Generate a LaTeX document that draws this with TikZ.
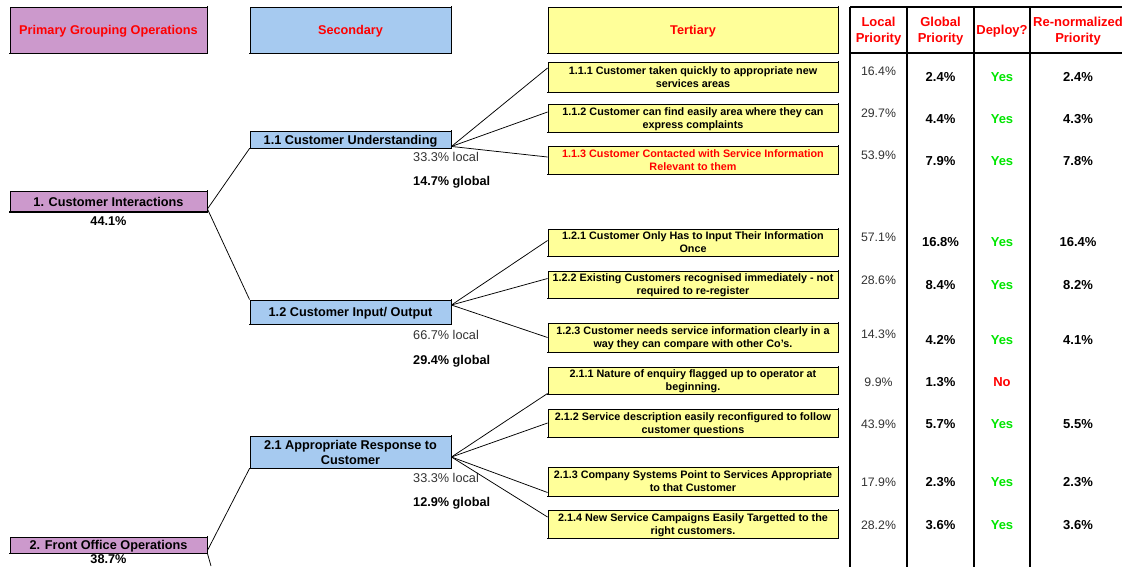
\documentclass[tikz,border=0pt]{standalone}
\usepackage{fontspec}
\setmainfont{Liberation Sans}
\usetikzlibrary{calc}

\definecolor{primfill}{HTML}{CC99CC}
\definecolor{secfill}{HTML}{A6CAF0}
\definecolor{terfill}{HTML}{FFFF99}
\definecolor{hdred}{HTML}{FF0000}
\definecolor{yesgreen}{HTML}{00E600}
\definecolor{valgray}{HTML}{333333}

\newcommand{\mainsz}{\fontsize{12.7}{15}\selectfont}
\newcommand{\tersz}{\fontsize{10.8}{13}\selectfont}
\newcommand{\tabsz}{\fontsize{13}{16}\selectfont}
\newcommand{\locsz}{\fontsize{12.3}{15}\selectfont}

\tikzset{
  box/.style={draw=black, line width=0.9pt, inner sep=0pt, align=center,
              text depth=0pt, font=\mainsz\bfseries},
  prim/.style={box, fill=primfill, minimum width=197pt},
  sec/.style={box, fill=secfill, minimum width=201pt},
  ter/.style={box, fill=terfill, minimum width=290pt, font=\tersz\bfseries},
  hdtext/.style={text=hdred},
  heavyedge/.style={draw=black, line width=1.9pt, line cap=rect},
  pctlocal/.style={font=\mainsz, text=valgray, anchor=west, inner sep=0pt},
  pctglobal/.style={font=\mainsz\bfseries, anchor=west, inner sep=0pt},
  pctprim/.style={font=\mainsz\bfseries, inner sep=0pt},
  link/.style={draw=black, line width=0.75pt},
  tabline/.style={draw=black, line width=2.4pt},
  tabhead/.style={font=\tabsz\bfseries, text=hdred, align=center, inner sep=0pt},
  vlocal/.style={font=\locsz, text=valgray, inner sep=0pt},
  vbold/.style={font=\tabsz\bfseries, inner sep=0pt},
  vyes/.style={font=\tabsz\bfseries, text=yesgreen, inner sep=0pt},
  vno/.style={font=\tabsz\bfseries, text=hdred, inner sep=0pt},
}

% one row of the priority table: name, y of local value, y of the others,
% local, global, deploy style, deploy text, re-normalized value
\newcommand{\prow}[8]{%
  \node[vlocal] (#1l) at (878.5,#2+1) {#4};
  \node[vbold]  (#1g) at (940.5,#3+1) {#5};
  \node[#6]     (#1d) at (1002,#3+1) {#7};
  \node[vbold]  (#1r) at (1078,#3+1) {#8};
}

\begin{document}
\begin{tikzpicture}[x=1pt,y=-1pt]
\useasboundingbox[fill=white] (0,0) rectangle (1122,566);
\clip (0,0) rectangle (1122,566);

% column headers
\node[prim, minimum height=46pt, hdtext] (ph) at (108.5,30) {Primary Grouping Operations};
\node[sec,  minimum height=46pt, hdtext] (sh) at (350.5,30) {Secondary};
\node[ter,  minimum height=46pt, hdtext, font=\mainsz\bfseries] (th) at (693,30) {Tertiary};

% primary groups
\node[prim, minimum height=20pt] (p1) at (108.5,201.5) {1. Customer Interactions};
\node[pctprim] (p1v) at (108.5,221) {44.1\%};
\node[prim, minimum height=16pt] (p2) at (108.5,545) {2. Front Office Operations};
\node[pctprim] (p2v) at (108.5,559.5) {38.7\%};

% secondary groups
\node[sec, minimum height=17pt] (s11) at (350.5,139.5) {1.1 Customer Understanding};
\node[pctlocal]  (s11l) at (413,157) {33.3\% local};
\node[pctglobal] (s11g) at (413,182) {14.7\% global};

\node[sec, minimum height=24pt] (s12) at (350.5,312) {1.2 Customer Input/ Output};
\node[pctlocal]  (s12l) at (413,335) {66.7\% local};
\node[pctglobal] (s12g) at (413,361) {29.4\% global};

\node[sec, minimum height=32pt] (s21) at (350.5,452) {2.1 Appropriate Response to\\Customer};
\node[pctlocal]  (s21l) at (413,478) {33.3\% local};
\node[pctglobal] (s21g) at (413,503) {12.9\% global};

% tertiary items
\node[ter, minimum height=30pt] (t111) at (693,77) {1.1.1 Customer taken quickly to appropriate new\\services areas};
\node[ter, minimum height=28pt] (t112) at (693,118) {1.1.2 Customer can find easily area where they can\\express complaints};
\node[ter, minimum height=28pt, text=hdred] (t113) at (693,160) {1.1.3 Customer Contacted with Service Information\\Relevant to them};
\node[ter, minimum height=27pt] (t121) at (693,242.5) {1.2.1 Customer Only Has to Input Their Information\\Once};
\node[ter, minimum height=27pt] (t122) at (693,284.5) {1.2.2 Existing Customers recognised immediately - not\\required to re-register};
\node[ter, minimum height=29pt] (t123) at (693,337.5) {1.2.3 Customer needs service information clearly in a\\way they can compare with other Co's.};
\node[ter, minimum height=27pt] (t211) at (693,380.5) {2.1.1 Nature of enquiry flagged up to operator at\\beginning.};
\node[ter, minimum height=28pt] (t212) at (693,423) {2.1.2 Service description easily reconfigured to follow\\customer questions};
\node[ter, minimum height=29pt] (t213) at (693,481.5) {2.1.3 Company Systems Point to Services Appropriate\\to that Customer};
\node[ter, minimum height=28pt] (t214) at (693,524) {2.1.4 New Service Campaigns Easily Targetted to the\\right customers.};

% heavier bottom and right edges of every box
\foreach \n in {ph,sh,th,p1,p2,s11,s12,s21,t111,t112,t113,t121,t122,t123,t211,t212,t213,t214}
  \draw[heavyedge] (\n.north east) -- (\n.south east) -- (\n.south west);

% hierarchy links
\coordinate (p2down) at (211,566);
\draw[link] ([yshift=3pt]p1.south east) -- (s11.south west);
\draw[link] ([yshift=3pt]p1.south east) -- (s12.north west);
\draw[link] ([yshift=3pt]p2.south east) -- (s21.south west);
\draw[link] (p2.south east) -- (p2down);

\draw[link] ([yshift=2pt]s11.south east) -- ([yshift=9pt]t111.west);
\draw[link] ([yshift=2pt]s11.south east) -- ([yshift=6pt]t112.west);
\draw[link] ([yshift=2pt]s11.south east) -- ([yshift=3pt]t113.west);

\draw[link] ([yshift=7pt]s12.east) -- ([yshift=2pt]t121.west);
\draw[link] ([yshift=7pt]s12.east) -- ([yshift=6pt]t122.west);
\draw[link] ([yshift=7pt]s12.east) -- (t123.west);

\draw[link] ([yshift=-5pt]s21.east) -- ([yshift=1pt]t211.south west);
\draw[link] ([yshift=-5pt]s21.east) -- (t212.west);
\draw[link] ([yshift=-5pt]s21.east) -- ([yshift=-11pt]t213.west);
\draw[link] ([yshift=-5pt]s21.east) -- ([yshift=7pt]t214.west);

% priority table grid
\draw[tabline] (850,7) -- (1130,7);
\draw[tabline] (850,53) -- (1130,53);
\foreach \cx in {850,907,974,1030}
  \draw[tabline] (\cx,7) -- (\cx,570);

\node[tabhead] (hloc) at (878.5,31.5) {Local\\Priority};
\node[tabhead] (hglo) at (940.5,31.5) {Global\\Priority};
\node[tabhead] (hdep) at (1002,31) {Deploy?};
\node[tabhead] (hren) at (1078,31.5) {Re-normalized\\Priority};

\prow{ra}{70}{76}{16.4\%}{2.4\%}{vyes}{Yes}{2.4\%}
\prow{rb}{112}{118}{29.7\%}{4.4\%}{vyes}{Yes}{4.3\%}
\prow{rc}{154}{160}{53.9\%}{7.9\%}{vyes}{Yes}{7.8\%}
\prow{rd}{236}{241}{57.1\%}{16.8\%}{vyes}{Yes}{16.4\%}
\prow{re}{279}{284}{28.6\%}{8.4\%}{vyes}{Yes}{8.2\%}
\prow{rf}{333}{339}{14.3\%}{4.2\%}{vyes}{Yes}{4.1\%}
\node[vlocal] (rgl) at (878.5,382) {9.9\%};
\node[vbold]  (rgg) at (940.5,382) {1.3\%};
\node[vno]    (rgd) at (1002,382) {No};
\prow{rh}{423}{423}{43.9\%}{5.7\%}{vyes}{Yes}{5.5\%}
\prow{ri}{481}{481}{17.9\%}{2.3\%}{vyes}{Yes}{2.3\%}
\prow{rj}{524}{524}{28.2\%}{3.6\%}{vyes}{Yes}{3.6\%}

\end{tikzpicture}
\end{document}
